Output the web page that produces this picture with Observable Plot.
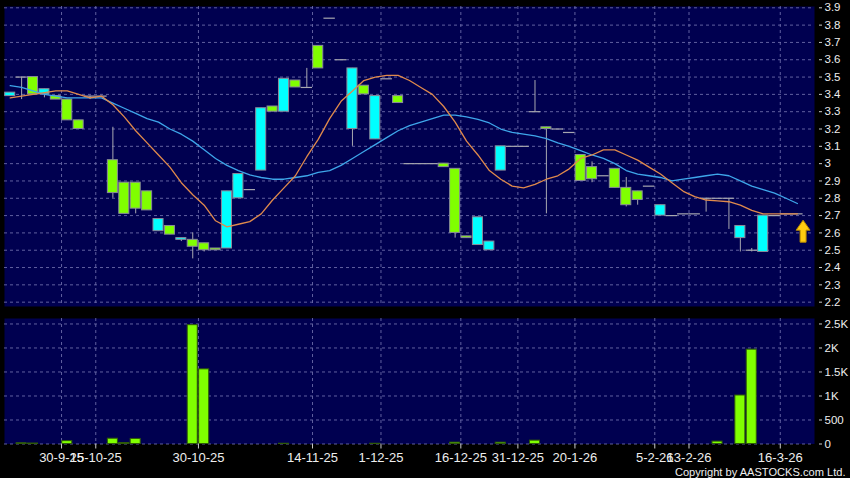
<!DOCTYPE html>
<html>
<head>
<meta charset="utf-8">
<script src="https://cdn.jsdelivr.net/npm/d3@7"></script>
<script src="https://cdn.jsdelivr.net/npm/@observablehq/plot@0.6"></script>
<style>
  html, body { margin: 0; padding: 0; background: #000; }
  #chart { position: relative; width: 850px; height: 478px; background: #000; overflow: hidden; }
  #chart svg { display: block; }
</style>
</head>
<body>
<div id="chart"></div>
<script>
// ---------------- data ----------------
const open  = [3.39,3.50,3.50,3.40,3.39,3.37,3.25,3.39,3.39,3.02, 2.89,2.89,2.84,2.61,2.64,2.56,2.56,2.54,2.51,2.51,
               2.80,2.85,2.96,3.33,3.30,3.48,3.44,3.68,3.84,3.60, 3.20,3.45,3.14,3.49,3.39,3.00,3.00,3.00,3.00,2.97,
               2.58,2.53,2.50,2.96,3.10,3.10,3.30,3.21,3.20,3.18, 3.05,2.98,2.93,2.97,2.86,2.84,2.87,2.70,2.70,2.71,
               2.71,2.80,2.80,2.80,2.57,2.50,2.49,2.70,2.71,2.71];
const high  = [3.41,3.50,3.50,3.43,3.39,3.37,3.25,3.39,3.39,3.21, 2.89,2.89,2.84,2.68,2.64,2.57,2.60,2.54,2.51,2.84,
               2.94,2.85,3.32,3.33,3.49,3.48,3.55,3.68,3.84,3.60, 3.55,3.45,3.39,3.49,3.39,3.00,3.00,3.00,3.00,2.97,
               2.58,2.69,2.55,3.10,3.10,3.10,3.48,3.21,3.20,3.18, 3.05,3.01,2.93,2.97,2.92,2.84,2.87,2.76,2.70,2.71,
               2.71,2.80,2.80,2.80,2.64,2.51,2.70,2.70,2.71,2.71];
const low   = [3.39,3.37,3.40,3.38,3.37,3.25,3.20,3.37,3.39,2.80, 2.71,2.71,2.73,2.61,2.59,2.55,2.45,2.49,2.50,2.51,
               2.80,2.85,2.96,3.30,3.30,3.44,3.44,3.55,3.84,3.60, 3.10,3.40,3.14,3.49,3.35,3.00,3.00,3.00,2.98,2.57,
               2.57,2.53,2.50,2.96,3.10,3.10,3.30,2.71,3.20,3.18, 2.90,2.89,2.93,2.86,2.75,2.76,2.87,2.70,2.70,2.71,
               2.71,2.72,2.80,2.62,2.49,2.49,2.49,2.70,2.71,2.71];
const close = [3.41,3.50,3.40,3.43,3.37,3.25,3.20,3.39,3.39,2.83, 2.71,2.74,2.73,2.68,2.59,2.57,2.52,2.50,2.50,2.84,
               2.94,2.85,3.32,3.30,3.49,3.44,3.44,3.55,3.84,3.60, 3.55,3.40,3.39,3.49,3.35,3.00,3.00,3.00,2.98,2.60,
               2.57,2.69,2.55,3.10,3.10,3.10,3.30,3.20,3.20,3.18, 2.90,2.91,2.93,2.86,2.76,2.79,2.87,2.76,2.70,2.71,
               2.71,2.80,2.80,2.80,2.64,2.50,2.70,2.70,2.71,2.71];
const volume = [0,15,10,0,0,60,0,0,0,110, 20,105,0,0,0,0,2475,1555,0,0,
                0,0,0,0,5,0,0,0,0,0, 0,0,5,0,0,0,0,0,0,28,
                0,0,0,28,0,0,70,0,0,0, 0,0,0,0,0,0,0,0,0,0,
                0,0,50,0,1010,1965,0,0,0,0];
const maShort = [3.38,3.39,3.40,3.41,3.42,3.42,3.40,3.38,3.39,3.34, 3.27,3.19,3.12,3.05,2.98,2.89,2.82,2.76,2.67,2.635,
                 2.65,2.665,2.71,2.79,2.86,2.93,3.04,3.14,3.26,3.36, 3.42,3.48,3.50,3.51,3.51,3.48,3.44,3.40,3.33,3.24,
                 3.13,3.05,2.96,2.91,2.87,2.86,2.88,2.91,2.93,2.97, 3.03,3.05,3.08,3.08,3.05,3.02,2.98,2.94,2.89,2.84,
                 2.81,2.79,2.785,2.78,2.76,2.73,2.71,2.71,2.71,2.71];
const maLong  = [3.45,3.44,3.42,3.40,3.39,3.38,3.38,3.38,3.38,3.35, 3.32,3.29,3.26,3.24,3.20,3.17,3.13,3.08,3.03,2.99,
                 2.96,2.935,2.92,2.91,2.91,2.92,2.93,2.95,2.96,2.99, 3.03,3.07,3.11,3.15,3.19,3.22,3.24,3.26,3.28,3.28,
                 3.27,3.255,3.235,3.20,3.18,3.17,3.16,3.145,3.12,3.10, 3.075,3.05,3.03,3.00,2.96,2.94,2.93,2.92,2.90,2.91,
                 2.92,2.93,2.94,2.93,2.90,2.87,2.85,2.83,2.80,2.77];
const priceTicks = [2.2,2.3,2.4,2.5,2.6,2.7,2.8,2.9,3.0,3.1,3.2,3.3,3.4,3.5,3.6,3.7,3.8,3.9];
const priceLabels = ["2.2","2.3","2.4","2.5","2.6","2.7","2.8","2.9","3","3.1","3.2","3.3","3.4","3.5","3.6","3.7","3.8","3.9"];
const volTicks = [0,500,1000,1500,2000,2500];
const volLabels = ["0","500","1K","1.5K","2K","2.5K"];
const dateTickPos = [4.5,7.5,16.5,26.5,32.5,39.5,44.5,49.5,56.5,59.5,67.5];
const dateLabels = ["30-9-25","15-10-25","30-10-25","14-11-25","1-12-25","16-12-25","31-12-25","20-1-26","5-2-26","13-2-26","16-3-26"];
const copyright = ["Copyright by AASTOCKS.com Ltd."];

// ---------------- styling ----------------
const FONT = '"Liberation Sans", Arial, sans-serif';
const NAVY = "#000050";
const GRID = "#6a6aa8";
const LIME = "#80ff00";
const CYAN = "#00ffff";
const WICK = "#a8a8b0";
const BODY_STROKE = "#8a8a9a";

const candles = open.map((o, i) => ({i, open: o, high: high[i], low: low[i], close: close[i]}));
const ups = candles.filter(d => d.close > d.open);
const downs = candles.filter(d => d.close < d.open);
const dojis = candles.filter(d => d.close === d.open);
const vols = volume.map((v, i) => ({i, v})).filter(d => d.v > 0);
const shortLine = maShort.map((v, i) => ({i, v}));
const longLine = maLong.map((v, i) => ({i, v}));
const last = candles[candles.length - 1];
const arrow = [{i: last.i + 0.5, p: last.close - 0.1}];
const nSlots = 71;

const arrowSymbol = {
  draw(ctx, size) {
    const s = Math.sqrt(size / Math.PI) / 7;
    const pts = [[0,-11],[7,-1],[3,-1],[3,11],[-3,11],[-3,-1],[-7,-1]];
    ctx.moveTo(pts[0][0] * s, pts[0][1] * s);
    for (let k = 1; k < pts.length; k++) ctx.lineTo(pts[k][0] * s, pts[k][1] * s);
    ctx.closePath();
  }
};

const gridOpts = {stroke: GRID, strokeOpacity: 0.9, strokeDasharray: "3,3", strokeWidth: 1};
const halfW = 0.44;

const pricePlot = Plot.plot({
  width: 850, height: 312,
  marginLeft: 4, marginRight: 36, marginTop: 6, marginBottom: 6,
  style: {background: "#000", color: "#eeeeee", fontFamily: FONT, fontSize: "11.5px"},
  x: {domain: [-0.5, nSlots - 0.5], axis: null, label: null},
  y: {domain: [2.175, 3.9075], label: null},
  marks: [
    Plot.frame({fill: NAVY}),
    Plot.gridY(priceTicks, gridOpts),
    Plot.gridX(dateTickPos, gridOpts),
    Plot.axisY(priceTicks, {anchor: "right", tickSize: 3, tickPadding: 3, dx: 4, label: null,
      tickFormat: d => priceLabels[priceTicks.indexOf(d)], fill: "#eeeeee", stroke: "#cccccc"}),
    Plot.ruleX(candles, {x: "i", y1: "low", y2: "high", stroke: WICK, strokeWidth: 1}),
    Plot.rect(ups, {x1: d => d.i - halfW, x2: d => d.i + halfW, y1: "open", y2: "close",
      fill: CYAN, stroke: BODY_STROKE, strokeWidth: 1}),
    Plot.rect(downs, {x1: d => d.i - halfW, x2: d => d.i + halfW, y1: "open", y2: "close",
      fill: LIME, stroke: BODY_STROKE, strokeWidth: 1}),
    Plot.ruleY(dojis, {y: "close", x1: d => d.i - 0.5, x2: d => d.i + 0.5, stroke: WICK, strokeWidth: 1.2}),
    Plot.line(longLine, {x: "i", y: "v", stroke: "#3ea6ea", strokeWidth: 1.3}),
    Plot.line(shortLine, {x: "i", y: "v", stroke: "#e08a4c", strokeWidth: 1.3}),
    Plot.dot(arrow, {x: "i", y: "p", r: 7, symbol: arrowSymbol, fill: "#ffcc10", stroke: "#b88a00", strokeWidth: 1})
  ]
});

const volPlot = Plot.plot({
  width: 850, height: 166,
  marginLeft: 4, marginRight: 36, marginTop: 6, marginBottom: 34.5,
  style: {background: "#000", color: "#eeeeee", fontFamily: FONT, fontSize: "11.5px", overflow: "visible"},
  x: {domain: [-0.5, nSlots - 0.5], label: null},
  y: {domain: [0, 2614], label: null},
  marks: [
    Plot.frame({fill: NAVY}),
    Plot.gridY(volTicks, gridOpts),
    Plot.gridX(dateTickPos, gridOpts),
    Plot.rect(vols, {x1: d => d.i - halfW, x2: d => d.i + halfW, y1: 0, y2: "v",
      fill: LIME, stroke: "#2f5a08", strokeWidth: 1}),
    Plot.axisY(volTicks, {anchor: "right", tickSize: 3, tickPadding: 3, dx: 4, label: null,
      tickFormat: d => volLabels[volTicks.indexOf(d)], fill: "#eeeeee", stroke: "#cccccc"}),
    Plot.axisX(dateTickPos, {anchor: "bottom", tickSize: 5, tickPadding: 4, fontSize: 13, label: null,
      tickFormat: d => dateLabels[dateTickPos.indexOf(d)], fill: "#eeeeee", stroke: "#cccccc"}),
    Plot.text(copyright, {frameAnchor: "bottom-right", textAnchor: "end", lineAnchor: "middle",
      dx: 31, dy: 28, fontSize: 11.1, fill: "#eeeeee"})
  ]
});

const chart = document.getElementById("chart");
chart.appendChild(pricePlot);
chart.appendChild(volPlot);
</script>
</body>
</html>
